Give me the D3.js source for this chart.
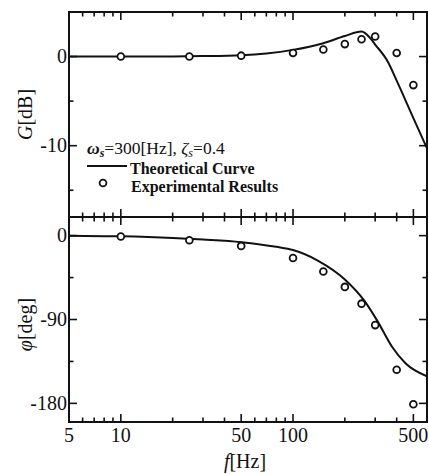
<!DOCTYPE html>
<html>
<head>
<meta charset="utf-8">
<script src="https://cdn.jsdelivr.net/npm/d3@7"></script>
<style>
  body { margin: 0; background: #fff; }
  svg text { font-family: "Liberation Serif", "Times New Roman", serif; fill: #111; }
</style>
</head>
<body>
<svg id="chart" width="429" height="474"></svg>
<script>
// experimental points
var freqExp = [10, 25, 50, 100, 150, 200, 250, 300, 400, 500];
var gainExp = [0, 0, 0.1, 0.4, 0.8, 1.4, 1.95, 2.25, 0.4, -3.2];
var phaseExp = [-1, -5, -11, -24, -38.5, -55, -73, -96, -144, -181];

// theoretical curves
var gainFreq = [5, 10, 20, 30, 50, 70, 100, 150, 200, 250, 280, 300, 356, 400, 500, 600];
var gainTheory = [0, 0, 0.02, 0.05, 0.15, 0.35, 0.75, 1.5, 2.3, 2.8, 2.1, 1.35, -0.6, -2.7, -6.9, -10.3];
var phaseFreq = [5, 10, 20, 30, 50, 80, 100, 140, 200, 260, 310, 375, 450, 600];
var phaseTheory = [0, -0.7, -2.5, -4.2, -7, -12, -15.5, -27, -47, -70, -92, -119, -137, -151];

// ticks
var xMajor = [10, 50, 100, 500];
var xMinor = [6, 7, 8, 9, 20, 30, 40, 60, 70, 80, 90, 200, 300, 400];
var xLabels = [5, 10, 50, 100, 500];
var gMajor = [0, -10];
var gMinor = [-5, -15];
var pMajor = [0, -90, -180];
var pMinor = [-45, -135];

var pLeft = 69, pRight = 427, pTop = 12, pMid = 217, pBottom = 422;

var svg = d3.select("#chart");

var x = d3.scaleLog().domain([5, 600]).range([pLeft, pRight]);
var yG = d3.scaleLinear().domain([-18, 5]).range([pMid, pTop]);
var yP = d3.scaleLinear().domain([-200, 20]).range([pBottom, pMid]);

svg.append("clipPath").attr("id", "clipTop")
    .append("rect").attr("x", pLeft).attr("y", pTop).attr("width", pRight - pLeft).attr("height", pMid - pTop);
svg.append("clipPath").attr("id", "clipBot")
    .append("rect").attr("x", pLeft).attr("y", pMid).attr("width", pRight - pLeft).attr("height", pBottom - pMid);

function toPairs(xs, ys) {
    return xs.map(function(d, i) { return [d, ys[i]]; });
}

// y ticks both sides, pointing inward
function yTicks(scale, major, minor) {
    var all = major.map(function(v) { return {v: v, len: 8}; })
        .concat(minor.map(function(v) { return {v: v, len: 4.5}; }));
    all.forEach(function(t) {
        svg.append("line").attr("x1", pLeft).attr("x2", pLeft + t.len)
            .attr("y1", scale(t.v)).attr("y2", scale(t.v))
            .attr("stroke", "#111").attr("stroke-width", 1.6);
        svg.append("line").attr("x1", pRight).attr("x2", pRight - t.len)
            .attr("y1", scale(t.v)).attr("y2", scale(t.v))
            .attr("stroke", "#111").attr("stroke-width", 1.6);
    });
    svg.selectAll(null).data(major).enter().append("text")
        .attr("x", pLeft - 2).attr("y", function(d) { return scale(d); })
        .attr("dy", "0.34em").attr("text-anchor", "end")
        .attr("font-size", 20)
        .text(function(d) { return d; });
}
yTicks(yG, gMajor, gMinor);
yTicks(yP, pMajor, pMinor);

// x ticks: top (down), middle (crossing), bottom (up)
var xt = xMajor.map(function(v) { return {v: v, len: 8}; })
    .concat(xMinor.map(function(v) { return {v: v, len: 4.5}; }));
xt.forEach(function(t) {
    var px = x(t.v);
    svg.append("line").attr("x1", px).attr("x2", px).attr("y1", pTop).attr("y2", pTop + t.len)
        .attr("stroke", "#111").attr("stroke-width", 1.6);
    svg.append("line").attr("x1", px).attr("x2", px).attr("y1", pMid - t.len).attr("y2", pMid + t.len)
        .attr("stroke", "#111").attr("stroke-width", 1.6);
    svg.append("line").attr("x1", px).attr("x2", px).attr("y1", pBottom).attr("y2", pBottom - t.len)
        .attr("stroke", "#111").attr("stroke-width", 1.6);
});

svg.selectAll(null).data(xLabels).enter().append("text")
    .attr("x", function(d) { return x(d); }).attr("y", 442)
    .attr("text-anchor", "middle").attr("font-size", 20)
    .text(function(d) { return d; });

// frames
svg.append("rect").attr("x", pLeft).attr("y", pTop).attr("width", pRight - pLeft).attr("height", pBottom - pTop)
    .attr("fill", "none").attr("stroke", "#111").attr("stroke-width", 2);
svg.append("line").attr("x1", pLeft).attr("x2", pRight).attr("y1", pMid).attr("y2", pMid)
    .attr("stroke", "#111").attr("stroke-width", 2);

// curves
var lineG = d3.line().x(function(d) { return x(d[0]); }).y(function(d) { return yG(d[1]); })
    .curve(d3.curveMonotoneX);
var lineP = d3.line().x(function(d) { return x(d[0]); }).y(function(d) { return yP(d[1]); })
    .curve(d3.curveMonotoneX);

svg.append("path").attr("clip-path", "url(#clipTop)")
    .attr("d", lineG(toPairs(gainFreq, gainTheory)))
    .attr("fill", "none").attr("stroke", "#111").attr("stroke-width", 2);
svg.append("path").attr("clip-path", "url(#clipBot)")
    .attr("d", lineP(toPairs(phaseFreq, phaseTheory)))
    .attr("fill", "none").attr("stroke", "#111").attr("stroke-width", 2);

svg.selectAll(null).data(toPairs(freqExp, gainExp)).enter().append("circle")
    .attr("cx", function(d) { return x(d[0]); }).attr("cy", function(d) { return yG(d[1]); })
    .attr("r", 3.4).attr("fill", "#fff").attr("stroke", "#111").attr("stroke-width", 1.8);
svg.selectAll(null).data(toPairs(freqExp, phaseExp)).enter().append("circle")
    .attr("cx", function(d) { return x(d[0]); }).attr("cy", function(d) { return yP(d[1]); })
    .attr("r", 3.4).attr("fill", "#fff").attr("stroke", "#111").attr("stroke-width", 1.8);

// legend
var leg = svg.append("text").attr("x", 87).attr("y", 154)
    .attr("font-size", 17.5);
leg.append("tspan").attr("font-style", "italic").attr("font-weight", "bold").text("ω");
leg.append("tspan").attr("font-style", "italic").attr("font-weight", "bold").attr("font-size", 12).attr("dy", 3).text("s");
leg.append("tspan").attr("dy", -3).text("=300[Hz], ");
leg.append("tspan").attr("font-style", "italic").text("ζ");
leg.append("tspan").attr("font-style", "italic").attr("font-size", 12).attr("dy", 3).text("s");
leg.append("tspan").attr("dy", -3).text("=0.4");

svg.append("line").attr("x1", 87).attr("x2", 127).attr("y1", 166).attr("y2", 166)
    .attr("stroke", "#111").attr("stroke-width", 2);
svg.append("text").attr("x", 130).attr("y", 174).attr("font-size", 16).attr("font-weight", "bold")
    .text("Theoretical Curve");
svg.append("circle").attr("cx", 103).attr("cy", 183).attr("r", 3.4)
    .attr("fill", "#fff").attr("stroke", "#111").attr("stroke-width", 1.8);
svg.append("text").attr("x", 131).attr("y", 192).attr("font-size", 16).attr("font-weight", "bold")
    .text("Experimental Results");

// axis titles
var gt = svg.append("text").attr("transform", "translate(32," + ((pTop + pMid) / 2) + ") rotate(-90)")
    .attr("text-anchor", "middle").attr("font-size", 20);
gt.append("tspan").attr("font-style", "italic").text("G");
gt.append("tspan").text("[dB]");

var pt = svg.append("text").attr("transform", "translate(32," + ((pMid + pBottom) / 2 + 5) + ") rotate(-90)")
    .attr("text-anchor", "middle").attr("font-size", 20);
pt.append("tspan").attr("font-style", "italic").text("φ");
pt.append("tspan").text("[deg]");

var xtl = svg.append("text").attr("x", 245).attr("y", 468)
    .attr("text-anchor", "middle").attr("font-size", 20);
xtl.append("tspan").attr("font-style", "italic").text("f");
xtl.append("tspan").text("[Hz]");
</script>
</body>
</html>
